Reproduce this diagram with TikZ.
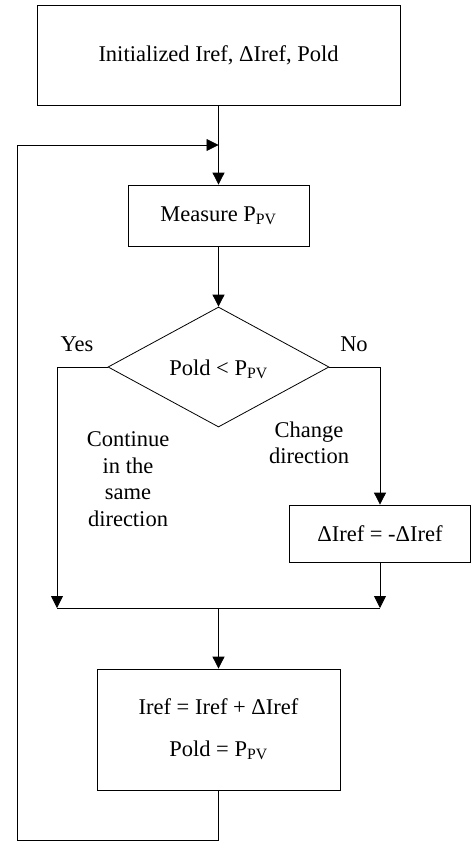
\documentclass[tikz,border=0pt]{standalone}
\usepackage{fontspec}
\setmainfont{Liberation Serif}
\usetikzlibrary{arrows.meta,shapes.geometric}
\begin{document}
\begin{tikzpicture}[x=1pt,y=-1pt,
  every node/.style={font=\fontsize{22.5}{26.5}\selectfont, inner sep=0pt},
  boxnode/.style={draw, line width=0.8pt, rectangle, align=center},
  decide/.style={draw, line width=0.8pt, diamond, aspect=1.84, minimum width=221pt, minimum height=120pt},
  lbl/.style={align=center},
  conn/.style={line width=0.8pt},
  arr/.style={conn, -{Triangle[length=12pt,width=12pt]}}]
\useasboundingbox (0,0) rectangle (471,841);
\node[boxnode, minimum width=363pt, minimum height=100pt] (init) at (218.5,55) {Initialized Iref, ΔIref, Pold};
\node[boxnode, minimum width=181pt, minimum height=61pt] (meas) at (218.5,215.5) {Measure P\textsubscript{PV}};
\node[decide] (dia) at (218.5,367) {};
\node (diatext) at (218.5,369) {Pold {<} P\textsubscript{PV}};
\node[boxnode, minimum width=181pt, minimum height=57pt] (dbox) at (380,533.5) {ΔIref = -ΔIref};
\node[boxnode, minimum width=243pt, minimum height=121pt] (upd) at (218.5,729.5) {Iref = Iref + ΔIref\\[15.5pt]Pold = P\textsubscript{PV}};
\node[lbl] (yes) at (77,344) {Yes};
\node[lbl] (no) at (354,344) {No};
\node[lbl] (cont) at (128,479) {Continue\\in the\\same\\direction};
\node[lbl] (chg) at (309,443) {Change\\direction};
\coordinate (join) at (218.5,145);
\coordinate (lc) at (17,840);
\coordinate (lj) at (57,608);
\coordinate (rj) at (380,608);
\coordinate (mj) at (218.5,608);
\draw[arr] (init.south) -- (meas.north);
\draw[arr] (meas.south) -- (dia.north);
\draw[arr] (dia.west) -| (lj);
\draw[arr] (dia.east) -| (dbox.north);
\draw[arr] (dbox.south) -- (rj);
\draw[conn] (lj) -- (rj);
\draw[arr] (mj) -- (upd.north);
\draw[conn] (upd.south) |- (lc);
\draw[arr] (lc) |- (join);
\end{tikzpicture}
\end{document}
